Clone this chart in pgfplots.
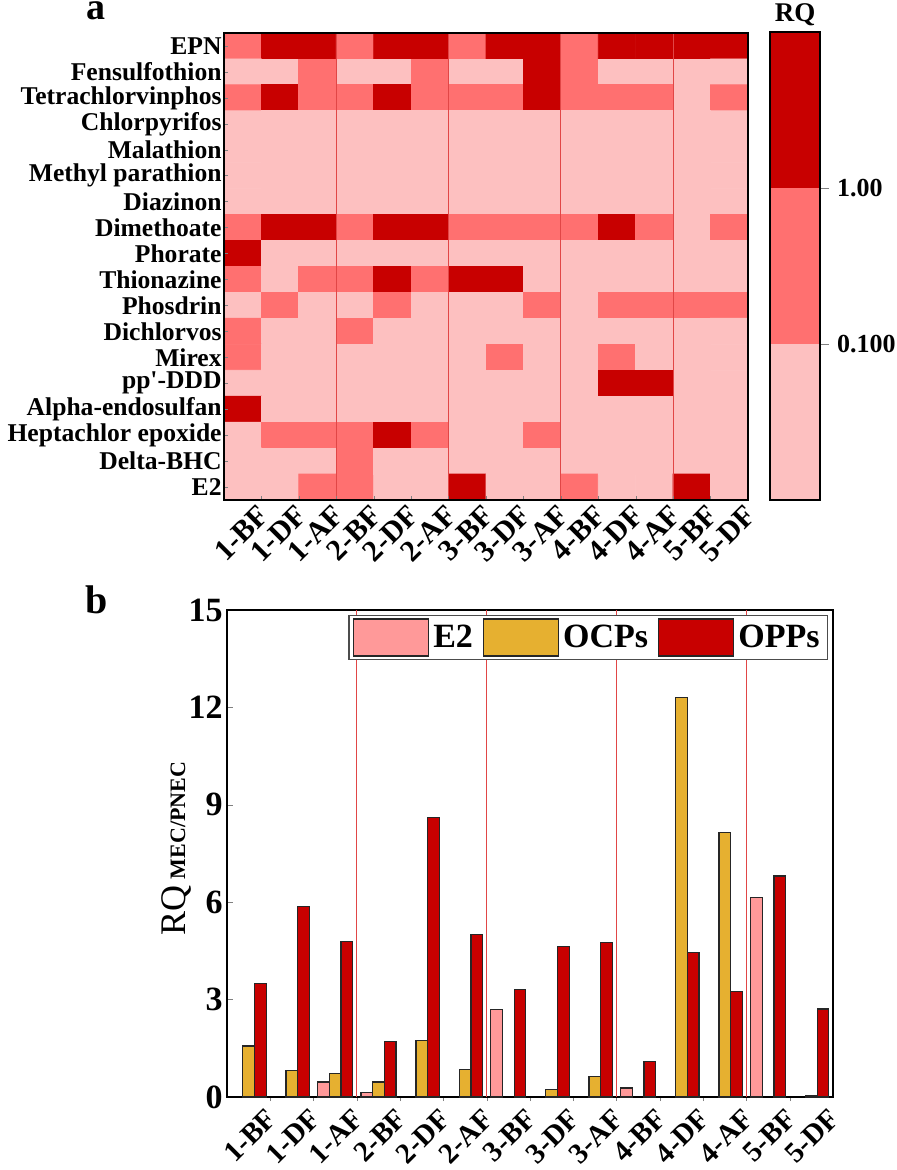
\documentclass[border=0pt]{standalone}
\usepackage{fontspec}
\setmainfont{Liberation Serif}
\usepackage{pgfplots}
\pgfplotsset{compat=1.18}
\definecolor{rqlight}{RGB}{253,192,192}
\definecolor{rqmed}{RGB}{255,112,112}
\definecolor{rqdark}{RGB}{200,0,0}
\definecolor{e2c}{RGB}{255,153,153}
\definecolor{ocpc}{RGB}{230,176,48}
\definecolor{oppc}{RGB}{200,0,0}
\definecolor{sepc}{RGB}{225,70,70}
\pgfplotsset{bigpatch/.style={legend image code/.code={\draw[##1, line width=0.6pt] (0pt,-9.25pt) rectangle (37.5pt,9.25pt);}}}
\begin{document}
\begin{tikzpicture}
\useasboundingbox (-112pt,-335pt) rectangle (336.5pt,250pt);
% ---------------- panel a: heat map
\begin{axis}[
  at={(0pt,0pt)}, anchor=south west,
  scale only axis, width=262pt, height=233.5pt,
  xmin=-0.5, xmax=13.5, ymin=-0.5, ymax=17.5, y dir=reverse,
  axis on top, tick pos=left,
  axis line style={line width=1pt},
  colormap={rq}{rgb255=(253,192,192) rgb255=(255,112,112) rgb255=(200,0,0)},
  point meta min=0, point meta max=2,
  xtick={0,...,13},
  xticklabels={1-BF,1-DF,1-AF,2-BF,2-DF,2-AF,3-BF,3-DF,3-AF,4-BF,4-DF,4-AF,5-BF,5-DF},
  minor xtick={0.5,1.5,...,12.5},
  every major x tick/.append style={draw=none},
  minor tick length=2pt, major tick length=2pt,
  ytick={0,...,17},
  yticklabels={EPN,Fensulfothion,Tetrachlorvinphos,Chlorpyrifos,Malathion,Methyl parathion,Diazinon,Dimethoate,Phorate,Thionazine,Phosdrin,Dichlorvos,Mirex,pp\textquotesingle-DDD,Alpha-endosulfan,Heptachlor epoxide,Delta-BHC,E2},
  yticklabel style={font=\bfseries\fontsize{12.8}{14}\selectfont, inner sep=1pt},
  xticklabel style={font=\bfseries\fontsize{15}{16}\selectfont, rotate=45, anchor=north east, inner sep=0pt, xshift=4pt, yshift=-6pt},
]
\addplot[matrix plot*, mesh/cols=14, point meta=explicit] table[row sep=\\, meta=c] {
x y c\\
0 0 1\\ 1 0 2\\ 2 0 2\\ 3 0 1\\ 4 0 2\\ 5 0 2\\ 6 0 1\\ 7 0 2\\ 8 0 2\\ 9 0 1\\ 10 0 2\\ 11 0 2\\ 12 0 2\\ 13 0 2\\
0 1 0\\ 1 1 0\\ 2 1 1\\ 3 1 0\\ 4 1 0\\ 5 1 1\\ 6 1 0\\ 7 1 0\\ 8 1 2\\ 9 1 1\\ 10 1 0\\ 11 1 0\\ 12 1 0\\ 13 1 0\\
0 2 1\\ 1 2 2\\ 2 2 1\\ 3 2 1\\ 4 2 2\\ 5 2 1\\ 6 2 1\\ 7 2 1\\ 8 2 2\\ 9 2 1\\ 10 2 1\\ 11 2 1\\ 12 2 0\\ 13 2 1\\
0 3 0\\ 1 3 0\\ 2 3 0\\ 3 3 0\\ 4 3 0\\ 5 3 0\\ 6 3 0\\ 7 3 0\\ 8 3 0\\ 9 3 0\\ 10 3 0\\ 11 3 0\\ 12 3 0\\ 13 3 0\\
0 4 0\\ 1 4 0\\ 2 4 0\\ 3 4 0\\ 4 4 0\\ 5 4 0\\ 6 4 0\\ 7 4 0\\ 8 4 0\\ 9 4 0\\ 10 4 0\\ 11 4 0\\ 12 4 0\\ 13 4 0\\
0 5 0\\ 1 5 0\\ 2 5 0\\ 3 5 0\\ 4 5 0\\ 5 5 0\\ 6 5 0\\ 7 5 0\\ 8 5 0\\ 9 5 0\\ 10 5 0\\ 11 5 0\\ 12 5 0\\ 13 5 0\\
0 6 0\\ 1 6 0\\ 2 6 0\\ 3 6 0\\ 4 6 0\\ 5 6 0\\ 6 6 0\\ 7 6 0\\ 8 6 0\\ 9 6 0\\ 10 6 0\\ 11 6 0\\ 12 6 0\\ 13 6 0\\
0 7 1\\ 1 7 2\\ 2 7 2\\ 3 7 1\\ 4 7 2\\ 5 7 2\\ 6 7 1\\ 7 7 1\\ 8 7 1\\ 9 7 1\\ 10 7 2\\ 11 7 1\\ 12 7 0\\ 13 7 1\\
0 8 2\\ 1 8 0\\ 2 8 0\\ 3 8 0\\ 4 8 0\\ 5 8 0\\ 6 8 0\\ 7 8 0\\ 8 8 0\\ 9 8 0\\ 10 8 0\\ 11 8 0\\ 12 8 0\\ 13 8 0\\
0 9 1\\ 1 9 0\\ 2 9 1\\ 3 9 1\\ 4 9 2\\ 5 9 1\\ 6 9 2\\ 7 9 2\\ 8 9 0\\ 9 9 0\\ 10 9 0\\ 11 9 0\\ 12 9 0\\ 13 9 0\\
0 10 0\\ 1 10 1\\ 2 10 0\\ 3 10 0\\ 4 10 1\\ 5 10 0\\ 6 10 0\\ 7 10 0\\ 8 10 1\\ 9 10 0\\ 10 10 1\\ 11 10 1\\ 12 10 1\\ 13 10 1\\
0 11 1\\ 1 11 0\\ 2 11 0\\ 3 11 1\\ 4 11 0\\ 5 11 0\\ 6 11 0\\ 7 11 0\\ 8 11 0\\ 9 11 0\\ 10 11 0\\ 11 11 0\\ 12 11 0\\ 13 11 0\\
0 12 1\\ 1 12 0\\ 2 12 0\\ 3 12 0\\ 4 12 0\\ 5 12 0\\ 6 12 0\\ 7 12 1\\ 8 12 0\\ 9 12 0\\ 10 12 1\\ 11 12 0\\ 12 12 0\\ 13 12 0\\
0 13 0\\ 1 13 0\\ 2 13 0\\ 3 13 0\\ 4 13 0\\ 5 13 0\\ 6 13 0\\ 7 13 0\\ 8 13 0\\ 9 13 0\\ 10 13 2\\ 11 13 2\\ 12 13 0\\ 13 13 0\\
0 14 2\\ 1 14 0\\ 2 14 0\\ 3 14 0\\ 4 14 0\\ 5 14 0\\ 6 14 0\\ 7 14 0\\ 8 14 0\\ 9 14 0\\ 10 14 0\\ 11 14 0\\ 12 14 0\\ 13 14 0\\
0 15 0\\ 1 15 1\\ 2 15 1\\ 3 15 1\\ 4 15 2\\ 5 15 1\\ 6 15 0\\ 7 15 0\\ 8 15 1\\ 9 15 0\\ 10 15 0\\ 11 15 0\\ 12 15 0\\ 13 15 0\\
0 16 0\\ 1 16 0\\ 2 16 0\\ 3 16 1\\ 4 16 0\\ 5 16 0\\ 6 16 0\\ 7 16 0\\ 8 16 0\\ 9 16 0\\ 10 16 0\\ 11 16 0\\ 12 16 0\\ 13 16 0\\
0 17 0\\ 1 17 0\\ 2 17 1\\ 3 17 1\\ 4 17 0\\ 5 17 0\\ 6 17 2\\ 7 17 0\\ 8 17 0\\ 9 17 1\\ 10 17 0\\ 11 17 0\\ 12 17 2\\ 13 17 0\\
};
\addplot[sepc, line width=0.4pt] coordinates {(2.5,-0.5) (2.5,17.5)};
\addplot[sepc, line width=0.4pt] coordinates {(5.5,-0.5) (5.5,17.5)};
\addplot[sepc, line width=0.4pt] coordinates {(8.5,-0.5) (8.5,17.5)};
\addplot[sepc, line width=0.4pt] coordinates {(11.5,-0.5) (11.5,17.5)};
\end{axis}
% ---------------- colour bar
\begin{axis}[
  at={(273pt,0pt)}, anchor=south west,
  scale only axis, width=25pt, height=234pt,
  xmin=0, xmax=1, ymin=0, ymax=3,
  axis on top,
  axis line style={line width=0.6pt},
  xtick=\empty,
  ytick={1,2}, yticklabels={0.100,1.00},
  ytick pos=right, yticklabel pos=right,
  tick align=outside, major tick length=4.5pt,
  yticklabel style={font=\bfseries\fontsize{13}{14}\selectfont, xshift=0.5pt},
]
\addplot[fill=rqlight, draw=none] coordinates {(0,0) (1,0) (1,1) (0,1)} -- cycle;
\addplot[fill=rqmed, draw=none] coordinates {(0,1) (1,1) (1,2) (0,2)} -- cycle;
\addplot[fill=rqdark, draw=none] coordinates {(0,2) (1,2) (1,3) (0,3)} -- cycle;
\end{axis}
\node[font=\bfseries\fontsize{13.5}{14}\selectfont, anchor=base] at (285.5pt,239pt) {RQ};
% ---------------- panel b: bars
\begin{axis}[
  at={(1.5pt,-298.5pt)}, anchor=south west,
  scale only axis, width=303pt, height=243.5pt,
  xmin=-0.5, xmax=13.5, ymin=0, ymax=15,
  ybar, bar width=0.27,
  tick pos=left,
  axis line style={line width=1pt},
  ytick={0,3,...,15},
  xtick={0,...,13},
  xticklabels={1-BF,1-DF,1-AF,2-BF,2-DF,2-AF,3-BF,3-DF,3-AF,4-BF,4-DF,4-AF,5-BF,5-DF},
  minor xtick={0.5,1.5,...,12.5},
  every major x tick/.append style={draw=none},
  minor tick length=2pt, major tick length=3pt,
  /pgf/number format/assume math mode=true,
  yticklabel style={font=\bfseries\fontsize{17}{18}\selectfont, inner sep=2pt},
  xticklabel style={font=\bfseries\fontsize{14.5}{15}\selectfont, rotate=45, anchor=north east, inner sep=0pt, xshift=4.5pt, yshift=-7pt},
  ylabel={RQ\,{\bfseries\fontsize{11}{11}\selectfont MEC/PNEC}},
  ylabel style={font=\fontsize{18}{18}\selectfont, at={(axis description cs:-0.084,0.51)}, anchor=center},
  legend columns=3,
  legend style={at={(0.992,0.99)}, anchor=north east, draw=black!70, line width=0.6pt,
    font=\bfseries\fontsize{17}{18}\selectfont, inner xsep=2pt, inner ysep=1.5pt,
    /tikz/every even column/.append style={column sep=3pt}},
]
\addplot[fill=e2c, draw=black!85, line width=0.6pt, bar shift=-0.27, bigpatch]
  coordinates {(2,0.46) (3,0.14) (6,2.69) (9,0.28) (12,6.15)};
\addplot[fill=ocpc, draw=black!85, line width=0.6pt, bar shift=0, bigpatch]
  coordinates {(0,1.57) (1,0.81) (2,0.72) (3,0.46) (4,1.73) (5,0.85) (7,0.24) (8,0.63) (10,12.31) (11,8.15) (13,0.03)};
\addplot[fill=oppc, draw=black!85, line width=0.6pt, bar shift=0.27, bigpatch]
  coordinates {(0,3.50) (1,5.87) (2,4.79) (3,1.70) (4,8.62) (5,5.00) (6,3.31) (7,4.63) (8,4.75) (9,1.10) (10,4.44) (11,3.24) (12,6.81) (13,2.71)};
\addplot[sharp plot, sepc, line width=0.4pt, forget plot] coordinates {(2.5,0) (2.5,15)};
\addplot[sharp plot, sepc, line width=0.4pt, forget plot] coordinates {(5.5,0) (5.5,15)};
\addplot[sharp plot, sepc, line width=0.4pt, forget plot] coordinates {(8.5,0) (8.5,15)};
\addplot[sharp plot, sepc, line width=0.4pt, forget plot] coordinates {(11.5,0) (11.5,15)};
\legend{E2,OCPs,OPPs}
\end{axis}
\node[font=\bfseries\fontsize{19}{19}\selectfont, anchor=base, inner sep=0pt, text height=0.47em, text depth=0pt] at (-64pt,240pt) {a};
\node[font=\bfseries\fontsize{20}{20}\selectfont, anchor=base, inner sep=0pt] at (-63.5pt,-57pt) {b};
\end{tikzpicture}
\end{document}
